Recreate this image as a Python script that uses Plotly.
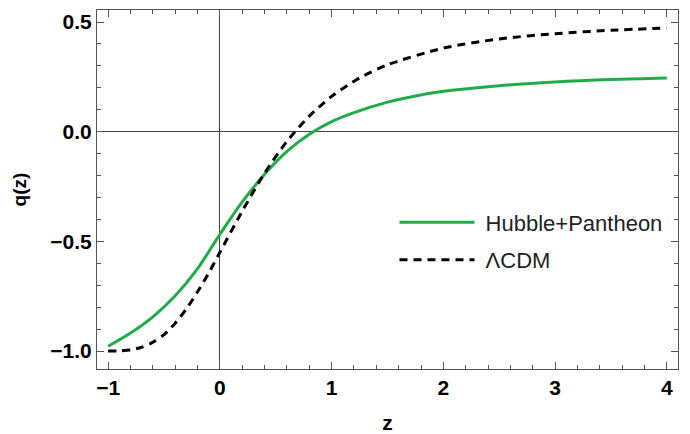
import plotly.graph_objects as go

# Hubble+Pantheon reconstruction
z_hp = [-1.0, -0.8, -0.6, -0.4, -0.2, 0.0, 0.2, 0.4, 0.6, 0.8, 1.0, 1.2, 1.5, 1.75, 2.0, 2.5, 3.0, 3.5, 4.0]
q_hp = [-0.978, -0.918, -0.844, -0.748, -0.624, -0.468, -0.320, -0.194, -0.090, -0.012, 0.046, 0.087, 0.135, 0.163, 0.184, 0.210, 0.227, 0.238, 0.245]

# LambdaCDM curve
z_l = [-1.0, -0.9, -0.8, -0.7, -0.6, -0.5, -0.4, -0.3, -0.2, -0.1, 0.0, 0.2, 0.4, 0.6, 0.8, 1.0, 1.25, 1.5, 2.0, 2.5, 3.0, 3.5, 4.0]
q_l = [-1.0, -0.999, -0.995, -0.983, -0.960, -0.925, -0.873, -0.808, -0.730, -0.644, -0.55, -0.362, -0.189, -0.044, 0.071, 0.161, 0.245, 0.305, 0.381, 0.423, 0.447, 0.4625, 0.4725]

x_ticks = [-1, 0, 1, 2, 3, 4]
y_ticks = [-1.0, -0.5, 0.0, 0.5]

FONT = "Liberation Sans, Arial"

fig = go.Figure()
fig.add_trace(go.Scatter(x=z_hp, y=q_hp, mode="lines", name="\u00a0Hubble+Pantheon",
                         line=dict(color="#1fad4a", width=3, shape="spline", smoothing=1.0), legendgroup="a"))
fig.add_trace(go.Scatter(x=z_l, y=q_l, mode="lines", name="\u00a0ΛCDM",
                         line=dict(color="black", width=3, dash="8px,6px", shape="spline", smoothing=0.8), legendgroup="b"))

axis_common = dict(
    showgrid=False, showline=True, linecolor="#555555", linewidth=1.2, mirror="ticks",
    ticks="inside", ticklen=7, tickwidth=1, tickcolor="#555555",
    zeroline=True, zerolinecolor="#444444", zerolinewidth=1, automargin=False,
    tickfont=dict(family=FONT, size=21, color="black", weight="bold"),
)

fig.update_xaxes(**axis_common, range=[-1.1, 4.1], tickvals=x_ticks,
                 minor=dict(ticks="inside", ticklen=4, dtick=0.2, tick0=0, tickcolor="#555555", showgrid=False),
                 title=dict(text="<b>z</b>", font=dict(family=FONT, size=21, color="black"), standoff=20))
fig.update_yaxes(**axis_common, range=[-1.082, 0.555], tickvals=y_ticks, tickformat=".1f",
                 minor=dict(ticks="inside", ticklen=4, dtick=0.1, tick0=0, tickcolor="#555555", showgrid=False),
                 title=dict(text="<b>q(z)</b>", font=dict(family=FONT, size=19, color="black"), standoff=18))

fig.update_layout(
    width=690, height=434,
    margin=dict(l=97, r=12, t=10, b=65),
    plot_bgcolor="white", paper_bgcolor="white",
    legend=dict(x=0.512, y=0.467, xanchor="left", yanchor="top", bgcolor="rgba(0,0,0,0)",
                font=dict(family=FONT, size=22, color="#222222"),
                itemwidth=75, tracegroupgap=6, traceorder="grouped"),
)

fig.write_html("out.html")
